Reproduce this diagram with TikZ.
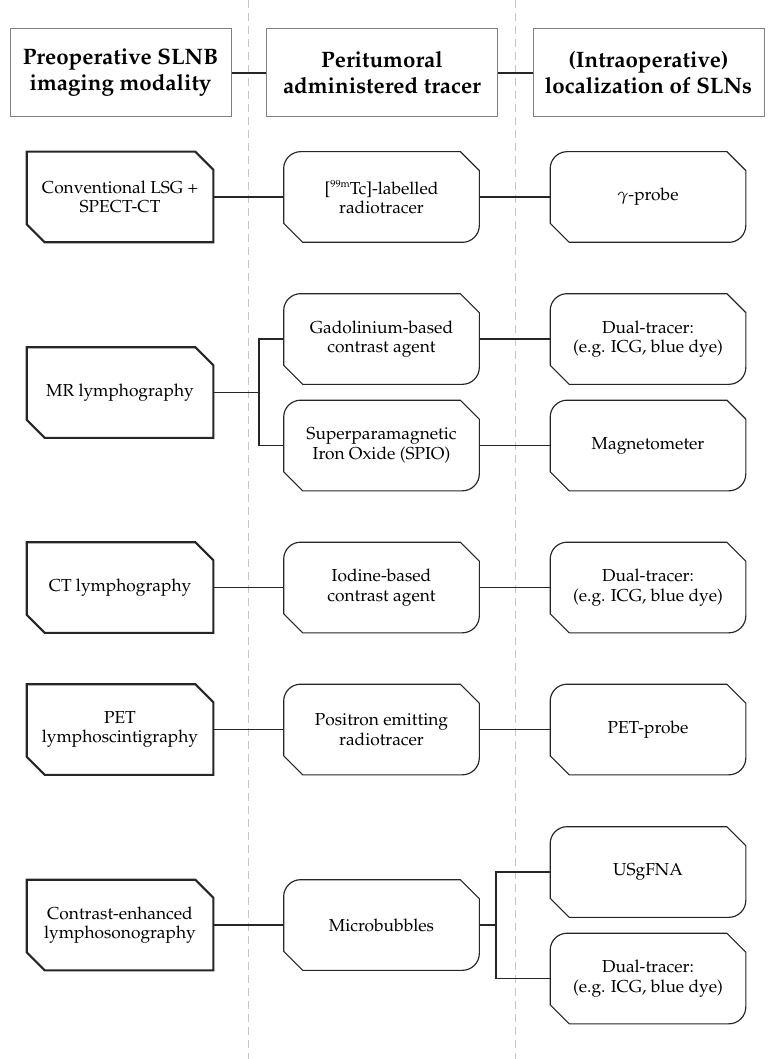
\documentclass[tikz,border=0pt]{standalone}
\usepackage[T1]{fontenc}
\usepackage{mathpazo}
\usepackage{tikz}

\begin{document}
\begin{tikzpicture}[x=0.6pt, y=0.6pt,
	head/.style={draw=gray, line width=0.6pt, minimum height=52.8pt, inner sep=0pt, align=center, font=\fontsize{13.4}{15.6}\selectfont\bfseries},
	modality/.style={minimum width=111.6pt, minimum height=54pt, inner sep=0pt, align=center, font=\fontsize{10.4}{11.7}\selectfont},
	tracer/.style={minimum width=117pt, minimum height=54pt, inner sep=0pt, align=center, font=\fontsize{10.4}{11.7}\selectfont},
	modline/.style={line width=1.3pt, black!85, line join=miter},
	boxline/.style={line width=0.7pt, black!85},
	link/.style={line width=0.7pt, black!85},
	divider/.style={line width=0.6pt, gray!45, dash pattern=on 4.8pt off 3pt}]

	\useasboundingbox (0,0) rectangle (769,-1059);

	\draw[divider] (248,0) -- (248,-1059);
	\draw[divider] (515,0) -- (515,-1059);

	\node[head, minimum width=132.6pt] (h1) at (120.5,-73) {Preoperative SLNB\\imaging modality};
	\node[head, minimum width=138.6pt] (h2) at (382,-73) {Peritumoral\\administered tracer};
	\node[head, minimum width=138.6pt] (h3) at (648.5,-73) {(Intraoperative)\\localization of SLNs};

	\node[modality] (m1) at (120,-197) {Conventional LSG +\\SPECT-CT};
	\node[modality] (m2) at (120,-392.5) {MR lymphography};
	\node[modality] (m3) at (120,-587.5) {CT lymphography};
	\node[modality] (m4) at (120,-729.5) {PET\\lymphoscintigraphy};
	\node[modality] (m5) at (120,-925) {Contrast-enhanced\\lymphosonography};

	\node[tracer] (t1) at (381.5,-197) {[\raisebox{0.85ex}{\fontsize{6.2}{7}\selectfont 99m}Tc]-labelled\\radiotracer};
	\node[tracer] (t2a) at (381.5,-339) {Gadolinium-based\\contrast agent};
	\node[tracer] (t2b) at (381.5,-445.5) {Superparamagnetic\\Iron Oxide (SPIO)};
	\node[tracer] (t3) at (381.5,-587.5) {Iodine-based\\contrast agent};
	\node[tracer] (t4) at (381.5,-729.5) {Positron emitting\\radiotracer};
	\node[tracer] (t5) at (381.5,-925) {Microbubbles};

	\node[tracer] (l1) at (648,-197) {$\gamma$-probe};
	\node[tracer] (l2a) at (648,-339) {Dual-tracer:\\(e.g. ICG, blue dye)};
	\node[tracer] (l2b) at (648,-445.5) {Magnetometer};
	\node[tracer] (l3) at (648,-587.5) {Dual-tracer:\\(e.g. ICG, blue dye)};
	\node[tracer] (l4) at (648,-729.5) {PET-probe};
	\node[tracer] (l5a) at (648,-872) {USgFNA};
	\node[tracer] (l5b) at (648,-978.5) {Dual-tracer:\\(e.g. ICG, blue dye)};

	\foreach \n in {m1,m2,m3,m4,m5}
		\draw[modline] (\n.north west) -- ([xshift=-10.8pt]\n.north east) -- ([yshift=-10.8pt]\n.north east) -- (\n.south east) -- ([xshift=10.8pt]\n.south west) -- ([yshift=10.8pt]\n.south west) -- cycle;

	\foreach \n in {t1,t2a,t2b,t3,t4,t5,l1,l2a,l2b,l3,l4,l5a,l5b}
		\draw[boxline] ([xshift=11.4pt]\n.south west) -- ([yshift=11.4pt]\n.south west) -- ([yshift=-10.2pt]\n.north west) arc[start angle=180, end angle=90, radius=10.2pt] -- ([xshift=-11.4pt]\n.north east) -- ([yshift=-11.4pt]\n.north east) -- ([yshift=10.2pt]\n.south east) arc[start angle=0, end angle=-90, radius=10.2pt] -- cycle;

	\coordinate (f2) at (259,-392.5);
	\coordinate (f5) at (496,-925);

	\draw[link] (h1.east) -- (h2.west);
	\draw[link] (h2.east) -- (h3.west);

	\draw[link] (m1.east) -- (t1.west);
	\draw[link] (t1.east) -- (l1.west);

	\draw[link] (m2.east) -- (f2);
	\draw[link] (f2) |- (t2a.west);
	\draw[link] (f2) |- (t2b.west);
	\draw[link] (t2a.east) -- (l2a.west);
	\draw[link] (t2b.east) -- (l2b.west);

	\draw[link] (m3.east) -- (t3.west);
	\draw[link] (t3.east) -- (l3.west);

	\draw[link] (m4.east) -- (t4.west);
	\draw[link] (t4.east) -- (l4.west);

	\draw[link] (m5.east) -- (t5.west);
	\draw[link] (t5.east) -- (f5);
	\draw[link] (f5) |- (l5a.west);
	\draw[link] (f5) |- (l5b.west);

\end{tikzpicture}
\end{document}
